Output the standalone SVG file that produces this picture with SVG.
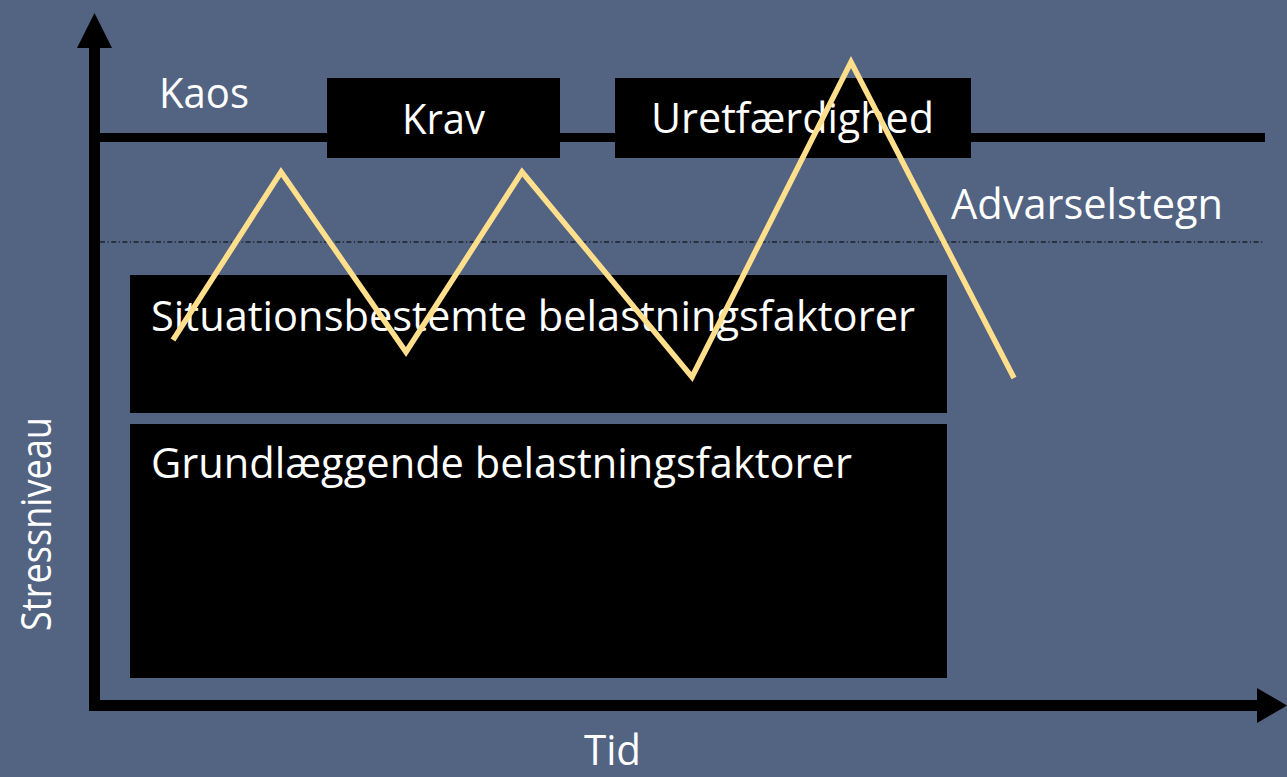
<svg xmlns="http://www.w3.org/2000/svg" width="1287" height="777" viewBox="0 0 1287 777">
<style>
.t{font-family:"Open Sans","Liberation Sans",sans-serif;font-size:42px;fill:#ffffff}
.box{fill:#000000}
.axis{stroke:#000000;fill:none}
</style>
<rect width="1287" height="777" fill="#536382"/>
<g id="axes">
<line class="axis" x1="94.5" y1="45" x2="94.5" y2="711" stroke-width="11"/>
<polygon points="94.5,13 77,48 112,48" fill="#000"/>
<line class="axis" x1="89" y1="705.5" x2="1260" y2="705.5" stroke-width="11"/>
<polygon points="1287,705.5 1257,688 1257,723" fill="#000"/>
<text class="t" transform="translate(51,631) rotate(-90)" textLength="214" lengthAdjust="spacingAndGlyphs">Stressniveau</text>
<text class="t" x="584" y="765" textLength="57" lengthAdjust="spacingAndGlyphs">Tid</text>
</g>
<g id="levels">
<line class="axis" x1="100" y1="137.5" x2="1265" y2="137.5" stroke-width="9"/>
<line class="axis" x1="100" y1="242" x2="1264" y2="242" stroke-width="1.2" stroke-dasharray="5 2.5 1.2 2.5"/>
<text class="t" x="159" y="108" textLength="90" lengthAdjust="spacingAndGlyphs">Kaos</text>
<text class="t" x="951" y="219" textLength="272" lengthAdjust="spacingAndGlyphs">Advarselstegn</text>
</g>
<g id="krav">
<rect class="box" x="327" y="78" width="233" height="80"/>
<text class="t" x="402" y="134" textLength="83" lengthAdjust="spacingAndGlyphs">Krav</text>
</g>
<g id="uretfaerdighed">
<rect class="box" x="615" y="78" width="356" height="80"/>
<text class="t" x="651" y="133" textLength="283" lengthAdjust="spacingAndGlyphs">Uretfærdighed</text>
</g>
<g id="situation">
<rect class="box" x="130" y="275" width="817" height="138"/>
<text class="t" x="151" y="331" textLength="764" lengthAdjust="spacingAndGlyphs">Situationsbestemte belastningsfaktorer</text>
</g>
<g id="grund">
<rect class="box" x="130" y="424" width="817" height="254"/>
<text class="t" x="151" y="478" textLength="701" lengthAdjust="spacingAndGlyphs">Grundlæggende belastningsfaktorer</text>
</g>
<g id="connectors">
<polyline points="173,340 281,172 406,352 522,172 692,377 851,62 1014,378" fill="none" stroke="#FFDF8C" stroke-width="5.5" stroke-linejoin="miter"/>
</g>
</svg>
